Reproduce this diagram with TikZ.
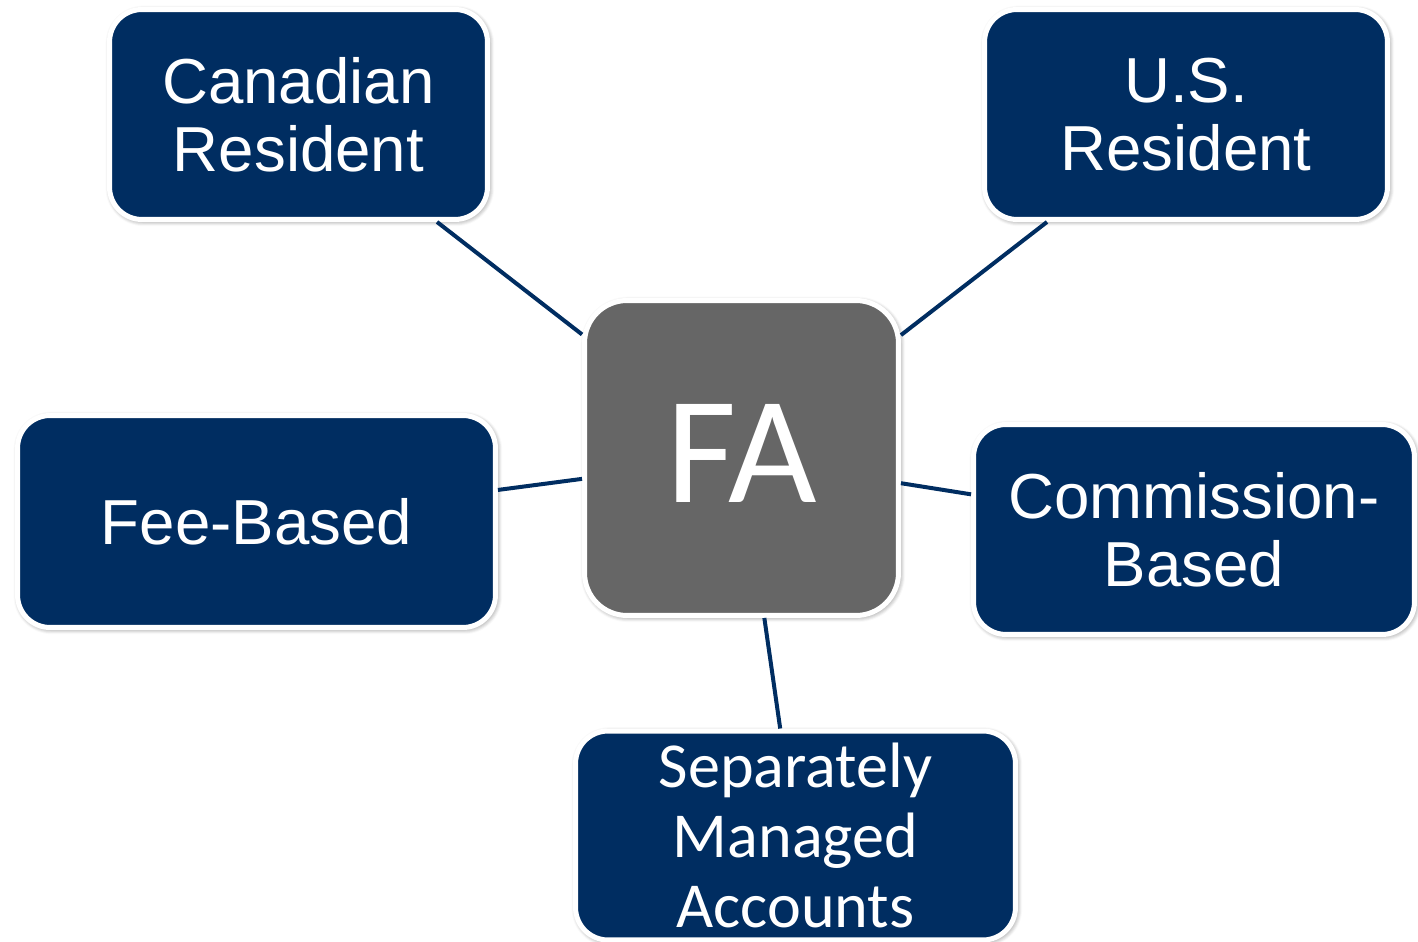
\documentclass[tikz,border=0pt]{standalone}
\usepackage{fontspec}
\setmainfont{Liberation Sans}
\newfontfamily\calibri{Carlito}
\usetikzlibrary{shadows.blur}

\definecolor{navy}{RGB}{0,45,97}
\definecolor{hubgray}{RGB}{102,102,102}

\tikzset{
  card/.style={rectangle, rounded corners=0.65cm, draw=white, line width=0.1cm,
    fill=navy, text=white, align=center, inner sep=0pt,
    blur shadow={shadow xshift=0.8pt, shadow yshift=-0.8pt, shadow blur radius=3pt,
      shadow opacity=55, shadow blur steps=6}},
  hub/.style={card, fill=hubgray, rounded corners=0.85cm},
  spoke/.style={draw=navy, line width=0.08cm},
  armfont/.style={font=\fontsize{36.2}{38.5}\selectfont},
}

\begin{document}
\begin{tikzpicture}[x=0.02cm, y=-0.02cm]
  \useasboundingbox (0,0) rectangle (1418,942);
  \node[card, armfont, minimum width=7.56cm, minimum height=4.2cm] (can) at (298.5,114.5) {Canadian\\Resident};
  \node[card, armfont, minimum width=8.06cm, minimum height=4.2cm] (us) at (1186,114.5) {U.S.\\Resident};
  \node[card, armfont, minimum width=9.56cm, minimum height=4.24cm] (fee) at (256.5,521.5) {Fee-Based};
  \node[card, armfont, minimum width=8.82cm, minimum height=4.2cm] (com) at (1194,529.5) {Commission-\\Based};
  \node[card, font=\calibri\fontsize{36.5}{40}\selectfont, minimum width=8.8cm, minimum height=4.18cm] (sma) at (795.5,835.5) {Separately\\Managed\\Accounts};
  \node[hub, font=\calibri\fontsize{87}{96}\selectfont, text depth=0.2cm, minimum width=6.28cm, minimum height=6.3cm] (fa) at (741.5,458) {FA};
  \draw[spoke] (fa) -- (can);
  \draw[spoke] (fa) -- (us);
  \draw[spoke] (fa) -- (fee);
  \draw[spoke] (fa) -- (com);
  \draw[spoke] (fa) -- (sma);
\end{tikzpicture}
\end{document}
